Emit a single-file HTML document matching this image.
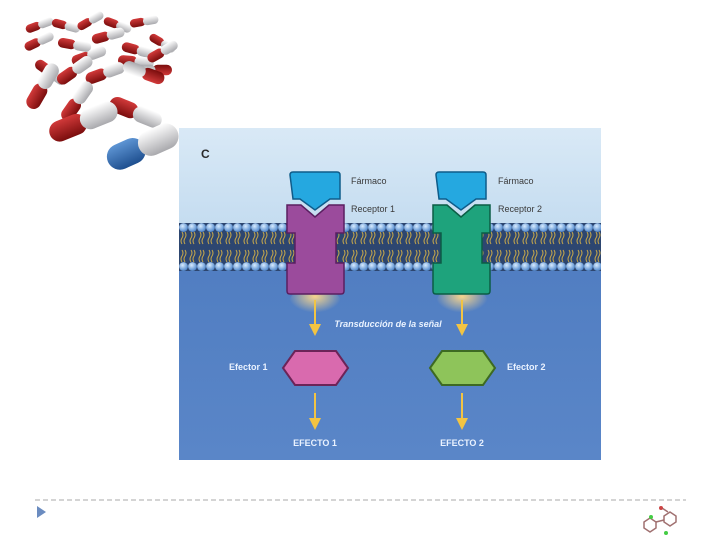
<!DOCTYPE html>
<html><head><meta charset="utf-8"><style>
html,body{margin:0;padding:0;background:#fff;width:720px;height:540px;overflow:hidden}
svg{display:block}
text{font-family:"Liberation Sans",sans-serif}
</style></head><body>
<svg width="720" height="540" viewBox="0 0 720 540" xmlns="http://www.w3.org/2000/svg">
<defs>
<linearGradient id="bg" x1="0" y1="0" x2="0" y2="1"><stop offset="0" stop-color="#4a78bd"/><stop offset="1" stop-color="#5a86c8"/></linearGradient>
<linearGradient id="top" x1="0" y1="0" x2="0" y2="1"><stop offset="0" stop-color="#d9e9f6"/><stop offset="1" stop-color="#c4dcf0"/></linearGradient>
<radialGradient id="head" cx="0.4" cy="0.35" r="0.6"><stop offset="0" stop-color="#d8ecff"/><stop offset="1" stop-color="#5a8fd0"/></radialGradient>
<pattern id="mem" x="179" y="223" width="9" height="48" patternUnits="userSpaceOnUse">
<rect width="9" height="48" fill="#2d4670"/>
<path d="M3 9 q2 3 0 6 q-2 3 0 6 M6 9 q2 3 0 6 q-2 3 0 6 M3 27 q2 3 0 6 q-2 3 0 6 M6 27 q2 3 0 6 q-2 3 0 6" stroke="#c9a94a" stroke-width="1" fill="none"/>
<circle cx="4.5" cy="4.5" r="4.4" fill="url(#head)"/>
<circle cx="4.5" cy="43.5" r="4.4" fill="url(#head)"/>
</pattern>
<radialGradient id="glow" cx="0.5" cy="0.3" r="0.5"><stop offset="0" stop-color="#ffd98a" stop-opacity="0.95"/><stop offset="1" stop-color="#ffd98a" stop-opacity="0"/></radialGradient>
<linearGradient id="red" x1="0" y1="0" x2="0" y2="1"><stop offset="0" stop-color="#d23a3a"/><stop offset="1" stop-color="#7a0d0d"/></linearGradient>
<linearGradient id="wht" x1="0" y1="0" x2="0" y2="1"><stop offset="0" stop-color="#ffffff"/><stop offset="1" stop-color="#a9a9ad"/></linearGradient>
<linearGradient id="blu" x1="0" y1="0" x2="0" y2="1"><stop offset="0" stop-color="#5e95d4"/><stop offset="1" stop-color="#1e4f8f"/></linearGradient>
<g id="pill"><rect x="0" y="-7" width="26" height="14" rx="7" fill="url(#red)"/><rect x="22" y="-7" width="26" height="14" rx="7" fill="url(#wht)"/></g>
</defs>

<!-- pills -->
<g>
<use href="#pill" transform="translate(26,30) rotate(-20) scale(0.6)"/>
<use href="#pill" transform="translate(52,22) rotate(15) scale(0.6)"/>
<use href="#pill" transform="translate(78,28) rotate(-30) scale(0.6)"/>
<use href="#pill" transform="translate(104,20) rotate(20) scale(0.6)"/>
<use href="#pill" transform="translate(130,24) rotate(-10) scale(0.6)"/>
<use href="#pill" transform="translate(150,36) rotate(30) scale(0.6)"/>
<use href="#pill" transform="translate(25,48) rotate(-25) scale(0.65)"/>
<use href="#pill" transform="translate(58,42) rotate(10) scale(0.7)"/>
<use href="#pill" transform="translate(92,40) rotate(-15) scale(0.7)"/>
<use href="#pill" transform="translate(122,46) rotate(15) scale(0.7)"/>
<use href="#pill" transform="translate(36,62) rotate(35) scale(0.75)"/>
<use href="#pill" transform="translate(72,62) rotate(-20) scale(0.75)"/>
<use href="#pill" transform="translate(118,60) rotate(5) scale(0.75)"/>
<use href="#pill" transform="translate(148,60) rotate(-30) scale(0.7)"/>
<use href="#pill" transform="translate(172,70) rotate(180) scale(0.75)"/>
<use href="#pill" transform="translate(58,82) rotate(-35) scale(0.85)"/>
<use href="#pill" transform="translate(86,80) rotate(-20) scale(0.85)"/>
<use href="#pill" transform="translate(164,80) rotate(200) scale(0.9)"/>
<use href="#pill" transform="translate(30,108) rotate(-60) scale(1.05)"/>
<use href="#pill" transform="translate(64,120) rotate(-55) scale(0.95)"/>
<use href="#pill" transform="translate(110,102) rotate(22) scale(1.15)"/>
<use href="#pill" transform="translate(50,135) rotate(-22) scale(1.5)"/>
<g transform="translate(108,162) rotate(-24)"><rect x="0" y="-13" width="40" height="26" rx="13" fill="url(#blu)"/><rect x="34" y="-13" width="42" height="26" rx="13" fill="url(#wht)"/></g>
</g>

<!-- diagram -->
<rect x="179" y="128" width="422" height="332" fill="url(#bg)"/>
<rect x="179" y="128" width="422" height="100" fill="url(#top)"/>
<rect x="179" y="223" width="422" height="48" fill="url(#mem)"/>
<text x="201" y="158" font-size="12" font-weight="bold" fill="#2a2a2a">C</text>

<ellipse cx="315" cy="303" rx="26" ry="16" fill="url(#glow)"/>
<ellipse cx="462" cy="303" rx="26" ry="16" fill="url(#glow)"/>

<!-- receptor 1 -->
<path d="M287 205 h14 l14 12 l14 -12 h15 v28 h-8 v30 h8 v28 q0 3 -3 3 h-51 q-3 0 -3 -3 v-28 h8 v-30 h-8 z" fill="#9b4b9c" stroke="#5a1f60" stroke-width="1.5"/>
<path d="M290 175 q0-3 3-3 h44 q3 0 3 3 v24 h-10 l-15 11 l-15 -11 h-7 z" fill="#25a8e0" stroke="#0e5c8a" stroke-width="1.5"/>
<!-- receptor 2 -->
<path d="M433 205 h14 l14 12 l14 -12 h15 v28 h-8 v30 h8 v28 q0 3 -3 3 h-51 q-3 0 -3 -3 v-28 h8 v-30 h-8 z" fill="#1ea37c" stroke="#0b5d45" stroke-width="1.5"/>
<path d="M436 175 q0-3 3-3 h44 q3 0 3 3 v24 h-10 l-15 11 l-15 -11 h-7 z" fill="#25a8e0" stroke="#0e5c8a" stroke-width="1.5"/>

<g font-size="9" fill="#3a3a3a">
<text x="351" y="184">Fármaco</text>
<text x="351" y="212">Receptor 1</text>
<text x="498" y="184">Fármaco</text>
<text x="498" y="212">Receptor 2</text>
</g>

<g stroke="#f2c443" stroke-width="2" fill="#f2c443">
<line x1="315" y1="300" x2="315" y2="326"/><path d="M309 324 l6 12 l6 -12 z" stroke="none"/>
<line x1="462" y1="300" x2="462" y2="326"/><path d="M456 324 l6 12 l6 -12 z" stroke="none"/>
<line x1="315" y1="393" x2="315" y2="420"/><path d="M309 418 l6 12 l6 -12 z" stroke="none"/>
<line x1="462" y1="393" x2="462" y2="420"/><path d="M456 418 l6 12 l6 -12 z" stroke="none"/>
</g>
<text x="388" y="327" font-size="9" font-style="italic" font-weight="bold" fill="#eaf2ff" text-anchor="middle">Transducción de la señal</text>

<path d="M283 368 l12 -17 h41 l12 17 l-12 17 h-41 z" fill="#d96aae" stroke="#6c2458" stroke-width="2"/>
<path d="M430 368 l12 -17 h41 l12 17 l-12 17 h-41 z" fill="#8ec45a" stroke="#3d6a22" stroke-width="2"/>
<g font-size="9" font-weight="bold" fill="#eaf2ff">
<text x="229" y="370">Efector 1</text>
<text x="507" y="370">Efector 2</text>
<text x="315" y="446" text-anchor="middle">EFECTO 1</text>
<text x="462" y="446" text-anchor="middle">EFECTO 2</text>
</g>

<line x1="35" y1="500" x2="686" y2="500" stroke="#aaa" stroke-width="1" stroke-dasharray="5,3"/>
<path d="M37 506 l9 6 l-9 6 z" fill="#6b8cc0"/>
<g stroke="#a07070" stroke-width="1.5" fill="none">
<path d="M644 522 l6 -4 l6 4 l0 6 l-6 4 l-6 -4 z"/>
<path d="M664 516 l6 -4 l6 4 l0 6 l-6 4 l-6 -4 z"/>
<line x1="656" y1="522" x2="664" y2="520"/>
<line x1="668" y1="512" x2="662" y2="508"/>
</g>
<circle cx="651" cy="517" r="2" fill="#4c4"/><circle cx="666" cy="533" r="2" fill="#4c4"/><circle cx="661" cy="508" r="2" fill="#c44"/>
</svg>
</body></html>
